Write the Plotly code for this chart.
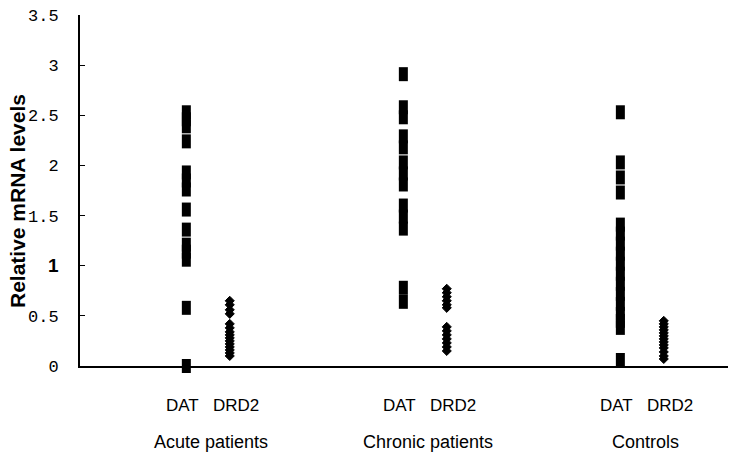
import plotly.graph_objects as go

groups = ["Acute patients", "Chronic patients", "Controls"]
group_pos = [1, 2, 3]
series_labels = ["DAT", "DRD2"]

dat_acute = [2.53, 2.46, 2.39, 2.24, 1.93, 1.85, 1.76, 1.56, 1.36, 1.21, 1.14, 1.06, 0.58, 0.0]
dat_chronic = [2.91, 2.58, 2.48, 2.29, 2.18, 2.03, 1.92, 1.81, 1.60, 1.49, 1.37, 0.78, 0.64]
dat_controls = [2.53, 2.03, 1.88, 1.73, 1.41, 1.32, 1.22, 1.12, 1.02, 0.92, 0.82, 0.72,
                0.62, 0.52, 0.45, 0.38, 0.06]

drd2_acute = [0.65, 0.61, 0.56, 0.52, 0.42, 0.38, 0.34, 0.31, 0.28, 0.25, 0.22, 0.19,
              0.16, 0.13, 0.10]
drd2_chronic = [0.77, 0.73, 0.69, 0.65, 0.61, 0.58, 0.39, 0.35, 0.31, 0.27, 0.23, 0.19, 0.15]
drd2_controls = [0.45, 0.42, 0.39, 0.36, 0.33, 0.30, 0.27, 0.24, 0.21, 0.18, 0.14, 0.10, 0.07]

y_ticks = [0, 0.5, 1, 1.5, 2, 2.5, 3, 3.5]
y_tick_text = ["0", "0.5",
               "<span style='font-family:Liberation Sans;font-weight:bold;font-size:19px'>1</span>",
               "1.5", "2", "2.5", "3", "3.5"]
y_title = "Relative mRNA levels"

dat_offset = -0.1
drd2_offset = 0.1

dat_sets = [dat_acute, dat_chronic, dat_controls]
drd2_sets = [drd2_acute, drd2_chronic, drd2_controls]

fig = go.Figure()
for g, vals in zip(group_pos, dat_sets):
    fig.add_trace(go.Scatter(
        x=[g + dat_offset] * len(vals), y=vals, mode="markers",
        marker=dict(symbol="line-ns", size=10, color="black",
                    line=dict(width=9, color="black")),
        cliponaxis=False, showlegend=False, hoverinfo="skip"))
for g, vals in zip(group_pos, drd2_sets):
    fig.add_trace(go.Scatter(
        x=[g + drd2_offset] * len(vals), y=vals, mode="markers",
        marker=dict(symbol="diamond", size=7, color="black",
                    line=dict(width=1, color="black")),
        cliponaxis=False, showlegend=False, hoverinfo="skip"))

lab_font = dict(family="Liberation Sans, Arial", size=17, color="black")
annotations = []
for g, name in zip(group_pos, groups):
    annotations.append(dict(x=g - 0.12, y=0, xref="x", yref="paper", text=series_labels[0],
                            showarrow=False, yanchor="middle", yshift=-39, font=lab_font))
    annotations.append(dict(x=g + 0.13, y=0, xref="x", yref="paper", text=series_labels[1],
                            showarrow=False, yanchor="middle", yshift=-39, font=lab_font))
    annotations.append(dict(x=g + 0.015, y=0, xref="x", yref="paper", text=name,
                            showarrow=False, yanchor="middle", yshift=-76,
                            font=dict(family="Liberation Sans, Arial", size=18, color="black")))
annotations.append(dict(x=0, y=0.47, xref="paper", yref="paper", text="<b>" + y_title + "</b>",
                        textangle=-90, showarrow=False, xanchor="center", yanchor="middle",
                        xshift=-63,
                        font=dict(family="Liberation Sans, Arial", size=21, color="black")))

fig.update_layout(
    width=736, height=465,
    margin=dict(l=80, r=8, t=15, b=99),
    paper_bgcolor="white", plot_bgcolor="white",
    annotations=annotations,
    xaxis=dict(range=[0.41, 3.396], showgrid=False, zeroline=False, showticklabels=False,
               ticks="", showline=True, linecolor="black", linewidth=2),
    yaxis=dict(range=[0, 3.5], tickvals=y_ticks, ticktext=y_tick_text, showgrid=False,
               zeroline=False, showline=True, linecolor="black", linewidth=2,
               ticks="inside", ticklen=5, tickwidth=1, tickcolor="black",
               ticklabelstandoff=16,
               tickfont=dict(family="Liberation Mono, DejaVu Sans Mono", size=17, color="black")),
)

fig.write_html("out.html", config={"displayModeBar": False},
               post_script="document.body.style.margin='0';document.body.style.overflow='hidden';")
